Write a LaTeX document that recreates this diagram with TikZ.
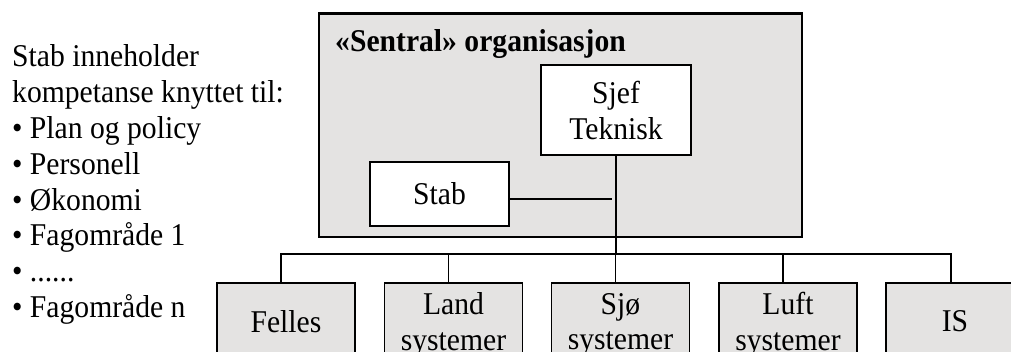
\documentclass[tikz,border=0pt]{standalone}
\usepackage{fontspec}
\setmainfont[FakeStretch=0.935]{Liberation Serif}
\definecolor{panel}{RGB}{228,227,226}
\begin{document}
\begin{tikzpicture}[x=1pt,y=-1pt,
  every node/.style={font=\fontsize{31.7}{35.9}\selectfont, inner sep=0pt},
  orgbox/.style={draw, line width=1.6pt, align=center, text depth=0pt},
  unit/.style={orgbox, fill=panel, minimum width=138pt, minimum height=77pt},
  wire/.style={line width=1.6pt}]
\useasboundingbox (0,0) rectangle (1011,352);
\clip (0,0) rectangle (1011,352);

% central organisation frame
\node[draw, line width=2.6pt, fill=panel, minimum width=483pt, minimum height=223.5pt] (central) at (560.5,125.25) {};
\node[anchor=base west, font=\fontsize{31.7}{35.9}\selectfont\bfseries] (title) at (335,52) {«Sentral» organisasjon};

% chief and staff
\node[orgbox, fill=white, minimum width=150pt, minimum height=90pt] (chief) at (616,110) {Sjef\\Teknisk};
\node[orgbox, fill=white, minimum width=139pt, minimum height=64pt] (staff) at (439.5,194) {Stab};

% subordinate units
\node[unit] (felles) at (286,321.5) {Felles};
\node[unit] (land) at (453.5,321.5) {Land\\systemer};
\node[unit] (sea) at (620.5,321.5) {Sjø\\systemer};
\node[unit] (air) at (788,321.5) {Luft\\systemer};
\node[unit] (is) at (955,321.5) {IS};

% connectors
\coordinate (tap) at (612,199);
\coordinate (bus) at (616,254);
\draw[wire] (staff.east |- tap) -- (tap);
\draw[wire] (chief.south) -- (bus);
\draw[wire] ([xshift=-5pt]felles.north) -- ([xshift=-5pt]felles.north |- bus)
  -- ([xshift=-4pt]is.north |- bus) -- ([xshift=-4pt]is.north);
\foreach \u in {land,sea,air}
  \draw[wire] ([xshift=-5pt]\u.north) -- ([xshift=-5pt]\u.north |- bus);

% staff competence list
\node[anchor=north west, align=left] (note) at (12,44.3) {Stab inneholder\\kompetanse knyttet til:\\• Plan og policy\\• Personell\\• Økonomi\\• Fagområde 1\\• ......\\• Fagområde n};
\end{tikzpicture}
\end{document}
